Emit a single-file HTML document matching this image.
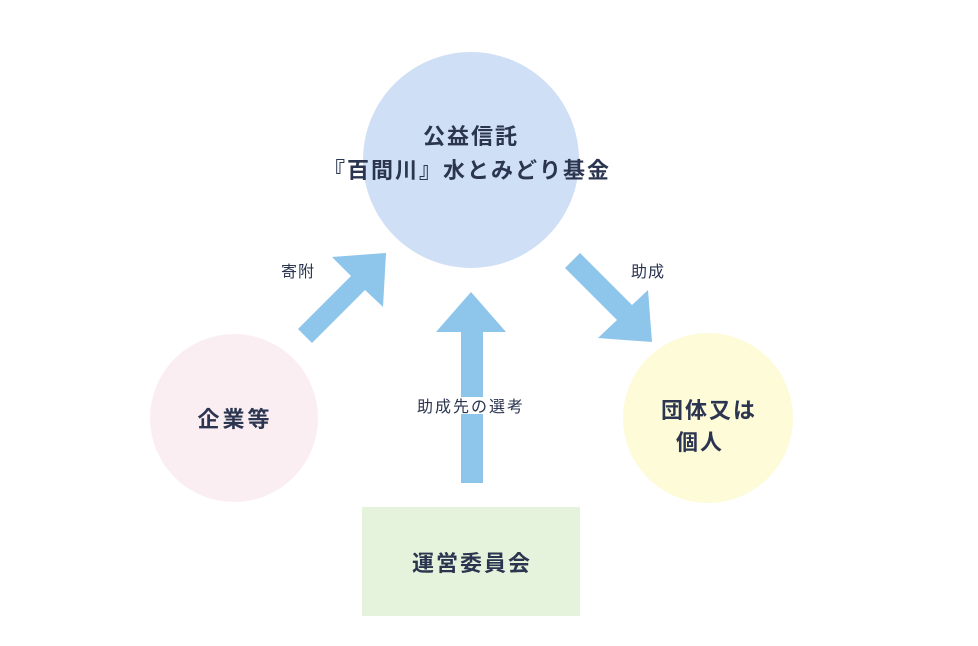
<!DOCTYPE html>
<html><head><meta charset="utf-8"><style>
html,body{margin:0;padding:0;background:#fff;}
svg text{font-family:"Liberation Sans","Noto Sans CJK JP",sans-serif;fill:#2b3550;}
</style></head><body>
<svg width="978" height="641" viewBox="0 0 978 641" xmlns="http://www.w3.org/2000/svg">
<rect width="978" height="641" fill="#fff"/>
<circle cx="471" cy="160" r="108" fill="#cfdff5"/>
<circle cx="234" cy="418" r="84" fill="#fbeef3"/>
<circle cx="708" cy="418" r="85" fill="#fdfbd8"/>
<rect x="362" y="507" width="218" height="109" fill="#e6f3dc"/>
<polygon fill="#8ec5ea" points="298,329 351,276 332,257 386,253 383,307 365,290 312,343"/>
<polygon fill="#8ec5ea" points="580,253 632,305 648,290 652,342 598,338 617,320 565,268"/>
<polygon fill="#8ec5ea" points="471,292 506,332 483,332 483,483 461,483 461,332 436,332"/>
<rect x="408" y="397" width="124" height="17" fill="#fff"/>
<text x="471" y="144" font-size="22" font-weight="bold" text-anchor="middle" letter-spacing="2">公益信託</text>
<text x="467" y="178" font-size="22" font-weight="bold" text-anchor="middle" letter-spacing="2">『百間川』水とみどり基金</text>
<text x="298" y="277" font-size="16" text-anchor="middle" letter-spacing="1">寄附</text>
<text x="648" y="277" font-size="16" text-anchor="middle" letter-spacing="1">助成</text>
<text x="471" y="412" font-size="16" text-anchor="middle" letter-spacing="2">助成先の選考</text>
<text x="235" y="427" font-size="22" font-weight="bold" text-anchor="middle" letter-spacing="3">企業等</text>
<text x="709" y="418" font-size="22" font-weight="bold" text-anchor="middle" letter-spacing="2">団体又は</text>
<text x="700" y="450" font-size="22" font-weight="bold" text-anchor="middle" letter-spacing="2">個人</text>
<text x="472" y="571" font-size="22" font-weight="bold" text-anchor="middle" letter-spacing="2">運営委員会</text>
</svg>
</body></html>
